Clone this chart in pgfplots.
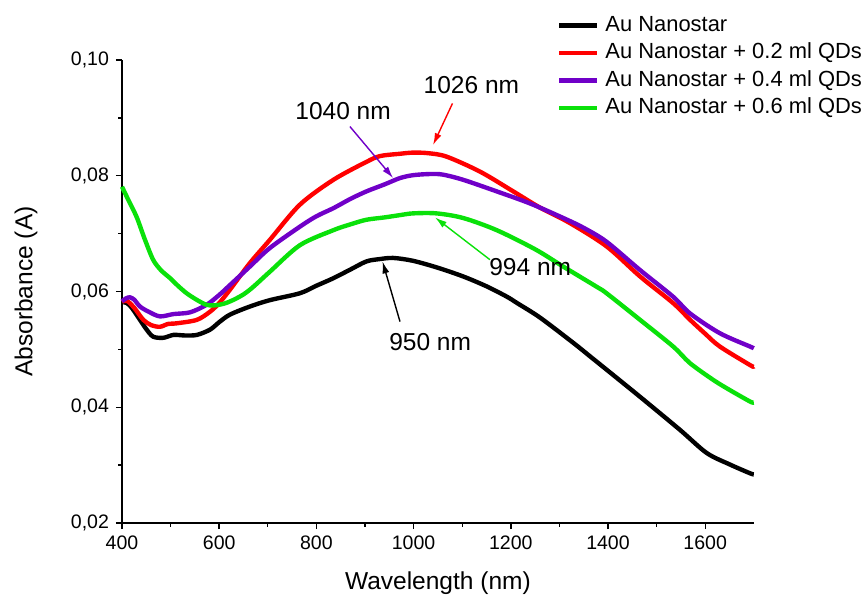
\documentclass[border=0pt]{standalone}
\usepackage{pgfplots}
\pgfplotsset{compat=1.18}
\usepackage{fontspec}
\setmainfont{Liberation Sans}
\usetikzlibrary{arrows.meta}
\definecolor{cred}{RGB}{255,0,0}
\definecolor{cpurple}{RGB}{112,0,200}
\definecolor{cgreen}{RGB}{10,225,10}
\begin{document}
\begin{tikzpicture}
\begin{axis}[
  at={(0,0)}, anchor=south west,
  scale only axis, width=315.9bp, height=231.5bp,
  xmin=400, xmax=1700, ymin=0.02, ymax=0.10,
  axis x line*=bottom, axis y line*=left,
  axis line style={line width=0.7bp},
  xtick={400,600,...,1600},
  ytick={0.02,0.04,...,0.10},
  minor x tick num=1, minor y tick num=1,
  tick align=outside,
  major tick length=3bp, minor tick length=1.8bp,
  every tick/.style={black, line width=0.7bp},
  tick label style={font=\fontsize{9.8}{11}\selectfont},
  /pgf/number format/assume math mode=true,
  yticklabel style={/pgf/number format/.cd, fixed, fixed zerofill, precision=2, use comma},
  scaled y ticks=false,
  xticklabel style={/pgf/number format/.cd, set thousands separator={}},
  xlabel={Wavelength (nm)}, ylabel={Absorbance (A)},
  label style={font=\fontsize{12.3}{14}\selectfont},
  xlabel style={at={(axis description cs:0.5,-0.13)}, anchor=center},
  ylabel style={at={(axis description cs:-0.152,0.5)}, anchor=center},
  clip=false,
  legend style={at={(axis description cs:0.688,1.098)}, anchor=north west, draw=none, fill=none,
    font=\fontsize{11}{12}\selectfont, row sep=3.25bp, inner sep=0pt,
    nodes={inner sep=0pt, text height=8bp, text depth=2.5bp}, column sep=3bp},
  legend cell align=left,
  legend image code/.code={\draw[#1] (0bp,0bp) -- (19bp,0bp);},
  every axis plot/.append style={line width=2.2pt, line join=round, no markers, smooth, tension=0.5},
]
\addplot[black] coordinates {
(400,0.0582)(410,0.0580)(420,0.0572)(437,0.0551)(450,0.0535)(464,0.0522)(485,0.0520)
(506,0.0525)(530,0.0524)(554,0.0525)(581,0.0534)(600,0.0547)(622,0.0560)(663,0.0574)
(704,0.0585)(766,0.0597)(800,0.0610)(835,0.0623)(870,0.0638)(903,0.0652)(930,0.0656)
(958,0.0658)(999,0.0653)(1050,0.0641)(1102,0.0626)(1150,0.0609)(1192,0.0591)(1213,0.0580)
(1260,0.0555)(1329,0.0511)(1363,0.0488)(1397,0.0465)(1466,0.0418)(1548,0.0361)
(1603,0.0321)(1651,0.0301)(1692,0.0286)(1700,0.0284)};
\addlegendentry{Au Nanostar}
\addplot[cred] coordinates {
(400,0.0582)(410,0.0584)(425,0.0572)(444,0.0551)(460,0.0542)(478,0.0539)(495,0.0544)
(512,0.0545)(554,0.0551)(581,0.0565)(600,0.0580)(622,0.0603)(663,0.0649)(704,0.0689)
(766,0.0750)(835,0.0793)(903,0.0824)(931,0.0834)(972,0.0838)(999,0.0840)(1030,0.0839)
(1068,0.0833)(1137,0.0807)(1205,0.0773)(1260,0.0745)(1320,0.0719)(1397,0.0678)
(1466,0.0626)(1534,0.0580)(1569,0.0551)(1600,0.0527)(1630,0.0505)(1692,0.0473)(1700,0.0470)};
\addlegendentry{Au Nanostar + 0.2 ml QDs}
\addplot[cpurple] coordinates {
(400,0.0583)(408,0.0588)(416,0.0590)(425,0.0586)(437,0.0574)(455,0.0565)(478,0.0557)
(506,0.0561)(540,0.0564)(574,0.0577)(600,0.0594)(622,0.0611)(663,0.0643)(704,0.0675)
(766,0.0712)(800,0.0730)(835,0.0744)(870,0.0760)(903,0.0773)(940,0.0785)(972,0.0796)
(999,0.0801)(1034,0.0803)(1060,0.0802)(1102,0.0793)(1171,0.0773)(1240,0.0752)(1308,0.0727)
(1350,0.0710)(1397,0.0686)(1466,0.0637)(1534,0.0591)(1569,0.0562)(1630,0.0528)(1692,0.0505)(1700,0.0502)};
\addlegendentry{Au Nanostar + 0.4 ml QDs}
\addplot[cgreen] coordinates {
(400,0.0781)(412,0.0760)(430,0.0729)(447,0.0690)(464,0.0655)(480,0.0637)(499,0.0623)
(515,0.0610)(533,0.0597)(555,0.0585)(574,0.0577)(590,0.0576)(610,0.0579)(628,0.0585)
(650,0.0595)(670,0.0608)(704,0.0634)(766,0.0680)(835,0.0706)(870,0.0716)(903,0.0724)
(940,0.0728)(972,0.0732)(999,0.0735)(1047,0.0735)(1102,0.0727)(1171,0.0706)(1250,0.0673)
(1308,0.0643)(1377,0.0608)(1397,0.0597)(1466,0.0551)(1534,0.0505)(1569,0.0476)
(1617,0.0447)(1650,0.0430)(1692,0.0410)(1700,0.0408)};
\addlegendentry{Au Nanostar + 0.6 ml QDs}
% annotations
\node[font=\fontsize{12.3}{14}\selectfont] at (axis cs:1119,0.0957) {1026 nm};
\draw[cred, line width=0.7bp, -{Latex[length=6bp,width=3.5bp]}] (axis cs:1080,0.0925) -- (axis cs:1040,0.0853);
\node[font=\fontsize{12.3}{14}\selectfont] at (axis cs:855,0.0911) {1040 nm};
\draw[cpurple, line width=0.7bp, -{Latex[length=6bp,width=3.5bp]}] (axis cs:869,0.0885) -- (axis cs:958,0.0796);
\node[font=\fontsize{12.3}{14}\selectfont] at (axis cs:1240,0.0643) {994 nm};
\draw[cgreen, line width=0.7bp, -{Latex[length=6bp,width=3.5bp]}] (axis cs:1157,0.0655) -- (axis cs:1044,0.0728);
\node[font=\fontsize{12.3}{14}\selectfont] at (axis cs:1034,0.0513) {950 nm};
\draw[black, line width=0.7bp, -{Latex[length=6bp,width=3.5bp]}] (axis cs:972,0.0548) -- (axis cs:936,0.0652);
\end{axis}
\pgfresetboundingbox
\useasboundingbox (-61bp,-38.5bp) rectangle (373bp,261.5bp);
\end{tikzpicture}
\end{document}
